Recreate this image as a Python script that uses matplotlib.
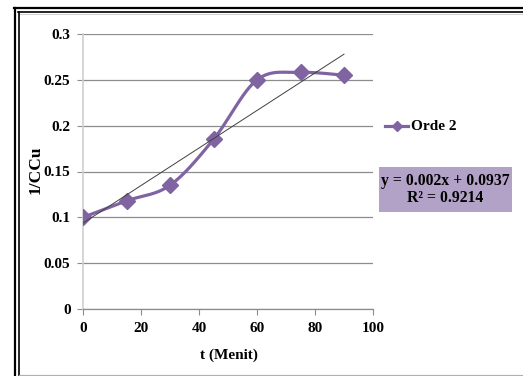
import numpy as np
import matplotlib
matplotlib.use("Agg")
import matplotlib.pyplot as plt
from matplotlib.lines import Line2D
from matplotlib.patches import Rectangle

# Data
t_values = [0, 15, 30, 45, 60, 75, 90]
y_values = [0.100, 0.118, 0.135, 0.185, 0.250, 0.258, 0.255]
series_name = "Orde 2"
x_ticks = [0, 20, 40, 60, 80, 100]
y_ticks = [0, 0.05, 0.1, 0.15, 0.2, 0.25, 0.3]
x_label = "t (Menit)"
y_label = "1/CCu"
eq_text = "y = 0.002x + 0.0937\nR² = 0.9214"

W, H = 523, 376
fig = plt.figure(figsize=(W / 100, H / 100), dpi=100)
plt.rcParams['font.family'] = ['Liberation Serif', 'DejaVu Serif']

def fx(px):
    return px / W

def fy(py):
    return 1 - py / H

ax = fig.add_axes([fx(83), fy(309), fx(373) - fx(83), fy(34) - fy(309)])

purple = "#8064A2"

# Excel-style smoothed line (Bezier via Catmull-Rom control points)
x = np.array(t_values, float)
y = np.array(y_values, float)
n = len(x)
sx, sy = [], []
tt = np.linspace(0, 1, 30)
for i in range(n - 1):
    p0 = np.array([x[i], y[i]])
    p3 = np.array([x[i + 1], y[i + 1]])
    pm = np.array([x[i - 1], y[i - 1]]) if i > 0 else p0
    pp = np.array([x[i + 2], y[i + 2]]) if i + 2 < n else p3
    c1 = p0 + (p3 - pm) / 6
    c2 = p3 - (pp - p0) / 6
    b = ((1 - tt) ** 3)[:, None] * p0 + (3 * (1 - tt) ** 2 * tt)[:, None] * c1 \
        + (3 * (1 - tt) * tt ** 2)[:, None] * c2 + (tt ** 3)[:, None] * p3
    sx.extend(b[:, 0]); sy.extend(b[:, 1])

ax.plot(sx, sy, color=purple, lw=2.3, zorder=3, solid_capstyle='round')
ax.plot(x, y, ls='none', marker='D', ms=8, color=purple, zorder=4)

# Linear trendline
m, c = np.polyfit(x, y, 1)
xl = np.array([x.min(), x.max()])
ax.plot(xl, m * xl + c, color="#404040", lw=0.7, zorder=5)

ax.set_xlim(0, 100)
ax.set_ylim(0, 0.3)
ax.set_xticks(x_ticks)
ax.set_yticks(y_ticks)
ax.set_yticklabels(["%g" % v for v in y_ticks])
ax.grid(axis='y', color="#8c8c8c", lw=0.9)
ax.set_axisbelow(True)
for s in ['top', 'right']:
    ax.spines[s].set_visible(False)
ax.spines['left'].set_color("#d0d0d0")
ax.spines['left'].set_linewidth(1.2)
ax.spines['bottom'].set_color("#8c8c8c")
ax.spines['bottom'].set_linewidth(0.9)
ax.tick_params(axis='both', labelsize=11, colors="#8c8c8c", labelcolor='black', length=4)
ax.tick_params(axis='y', pad=5)
ax.tick_params(axis='x', pad=5)
for lab in ax.get_xticklabels() + ax.get_yticklabels():
    lab.set_fontweight('bold')

fig.text(fx(228.5), fy(355), x_label, ha='center', va='center', fontsize=11, fontweight='bold')
fig.text(fx(36), fy(170), y_label, ha='center', va='center', rotation=90, fontsize=12.5, fontweight='bold')

# Legend
fig.add_artist(Line2D([fx(385), fx(408)], [fy(126), fy(126)], color=purple, lw=2.3))
fig.add_artist(Line2D([fx(396.5)], [fy(126)], marker='D', ms=5, color=purple, ls='none'))
fig.text(fx(411), fy(126), series_name, ha='left', va='center', fontsize=11, fontweight='bold')

# Equation box
fig.add_artist(Rectangle((fx(379), fy(212)), fx(512) - fx(379), fy(167) - fy(212),
                         transform=fig.transFigure, facecolor="#B3A2C7", edgecolor='none'))
fig.text(fx(445.5), fy(189.5), eq_text, ha='center', va='center', fontsize=11.3,
         fontweight='bold', linespacing=1.1)

# Frame lines
def hline(py, x0, x1, color, lw):
    fig.add_artist(Line2D([fx(x0), fx(x1)], [fy(py), fy(py)], color=color, lw=lw))

def vline(px, y0, y1, color, lw):
    fig.add_artist(Line2D([fx(px), fx(px)], [fy(y0), fy(y1)], color=color, lw=lw))

hline(8.3, 14, W, 'black', 1.6)
hline(12.2, 18, W, 'black', 1.2)
hline(13.6, 19, W, '#c8c8c8', 0.6)
vline(15.2, 7.5, H, 'black', 1.6)
vline(18.7, 11.5, H, 'black', 1.2)
hline(375.2, 19, W, '#b0b0b0', 0.9)

fig.savefig("out.png", dpi=100)
